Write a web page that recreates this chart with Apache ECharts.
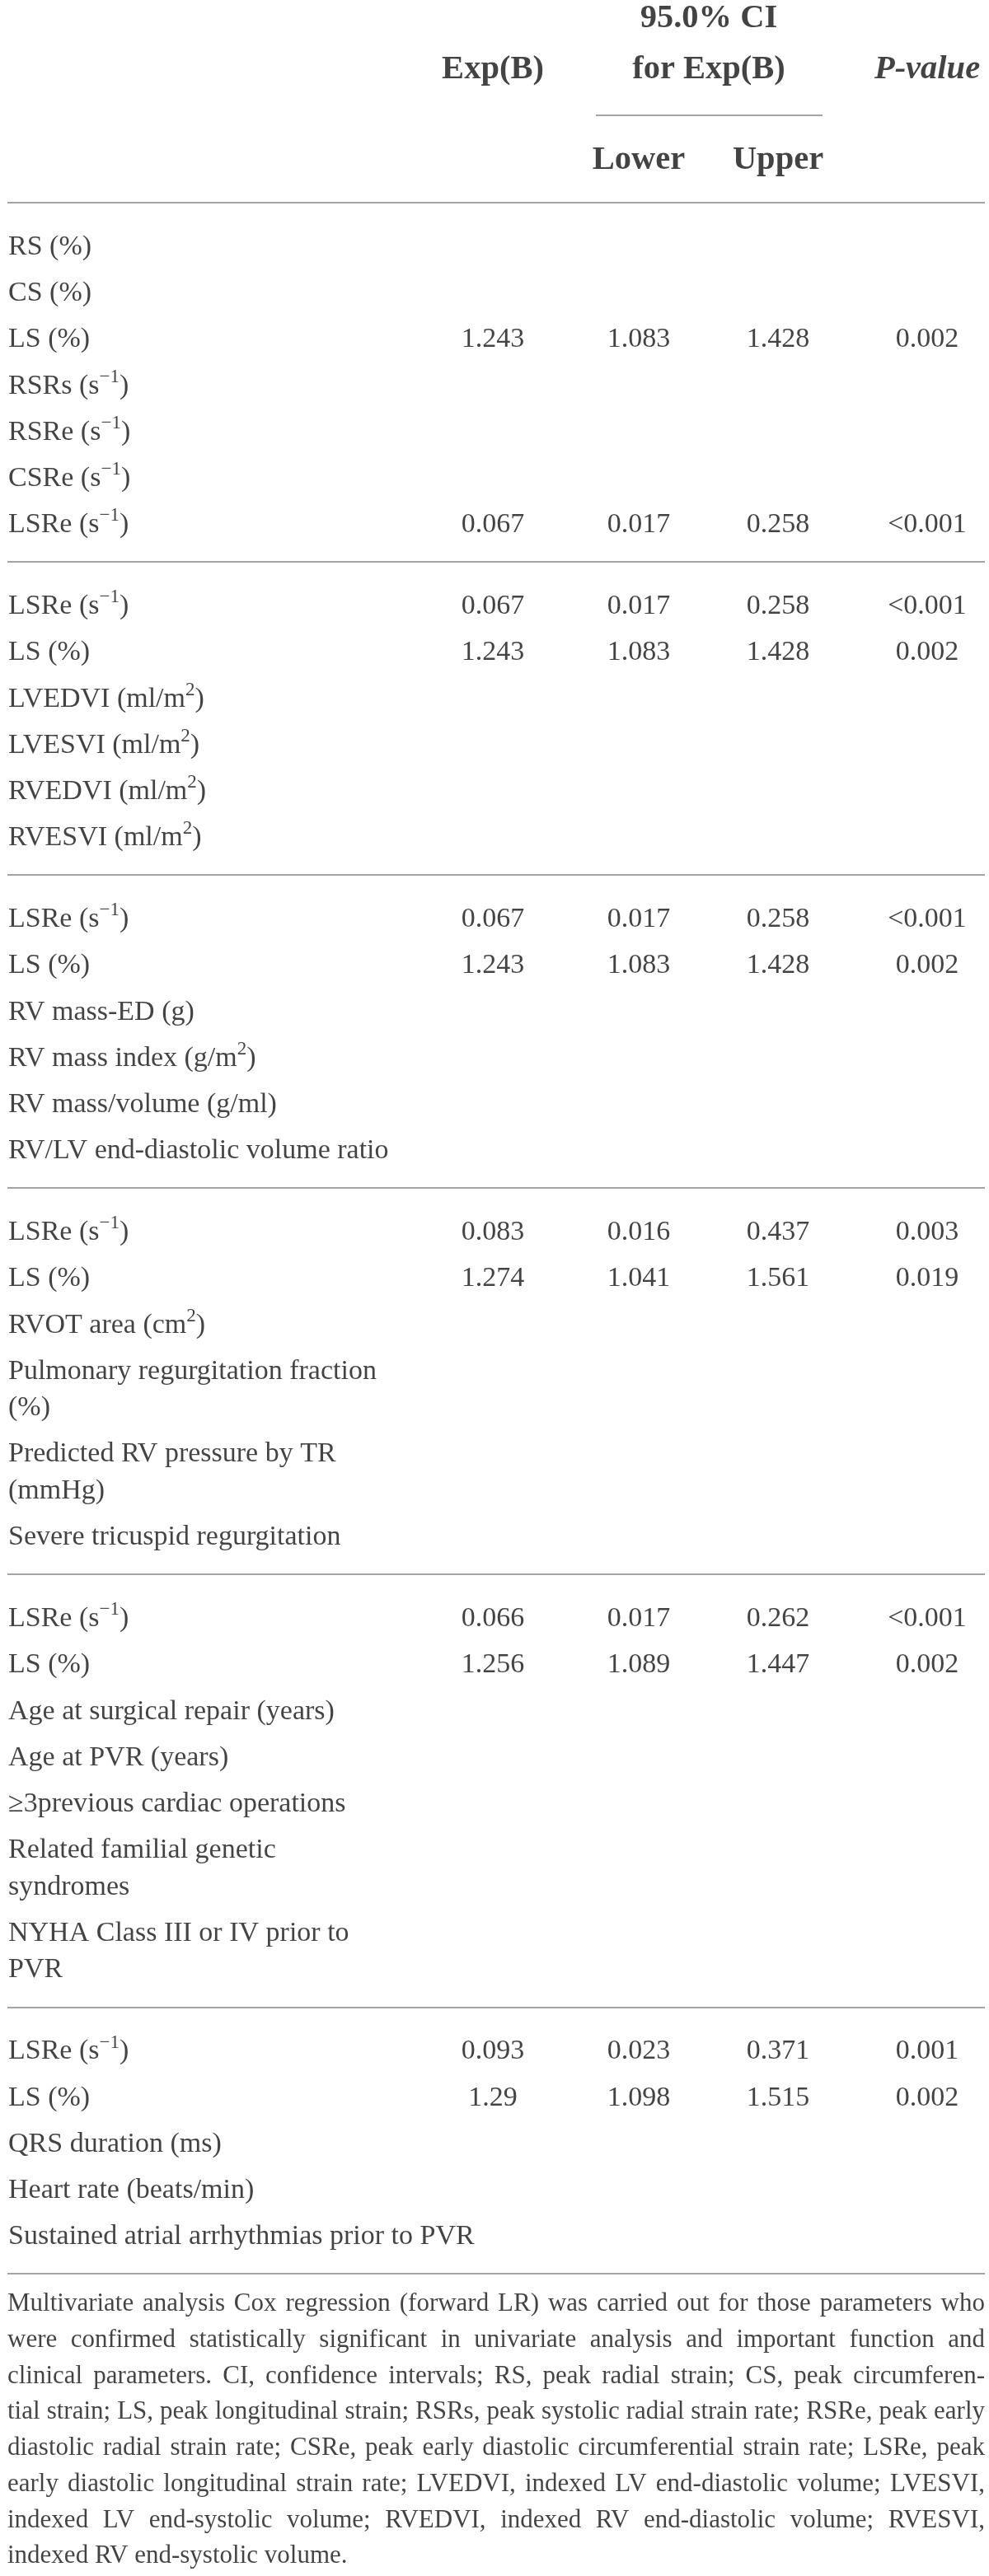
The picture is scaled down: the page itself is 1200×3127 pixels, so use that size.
<!DOCTYPE html>
<html>
<head>
<meta charset="utf-8">
<script src="https://cdn.jsdelivr.net/npm/echarts@6/dist/echarts.min.js"></script>
<style>html,body{margin:0;padding:0;background:#fff}#c{width:1200px;height:3127px}</style>
</head>
<body>
<div id="c"></div>
<script>
// ---------------- DATA ----------------
const ciTitle = '95.0% CI';
const colHeaders = ['Exp(B)', 'for Exp(B)', 'P-value'];
const subHeaders = ['Lower', 'Upper'];

const groupSizes = [7, 6, 6, 6, 7, 5];
const rowLabels = [
  'RS (%)', 'CS (%)', 'LS (%)', 'RSRs (s{sup|\u22121})', 'RSRe (s{sup|\u22121})', 'CSRe (s{sup|\u22121})', 'LSRe (s{sup|\u22121})',
  'LSRe (s{sup|\u22121})', 'LS (%)', 'LVEDVI (ml/m{sup|2})', 'LVESVI (ml/m{sup|2})', 'RVEDVI (ml/m{sup|2})', 'RVESVI (ml/m{sup|2})',
  'LSRe (s{sup|\u22121})', 'LS (%)', 'RV mass-ED (g)', 'RV mass index (g/m{sup|2})', 'RV mass/volume (g/ml)', 'RV/LV end-diastolic volume ratio',
  'LSRe (s{sup|\u22121})', 'LS (%)', 'RVOT area (cm{sup|2})', 'Pulmonary regurgitation fraction\n(%)', 'Predicted RV pressure by TR\n(mmHg)', 'Severe tricuspid regurgitation',
  'LSRe (s{sup|\u22121})', 'LS (%)', 'Age at surgical repair (years)', 'Age at PVR (years)', '\u22653previous cardiac operations', 'Related familial genetic\nsyndromes', 'NYHA Class III or IV prior to\nPVR',
  'LSRe (s{sup|\u22121})', 'LS (%)', 'QRS duration (ms)', 'Heart rate (beats/min)', 'Sustained atrial arrhythmias prior to PVR'
];
const expB = [
  null, null, 1.243, null, null, null, 0.067,
  0.067, 1.243, null, null, null, null,
  0.067, 1.243, null, null, null, null,
  0.083, 1.274, null, null, null, null,
  0.066, 1.256, null, null, null, null, null,
  0.093, 1.29, null, null, null
];
const ciLower = [
  null, null, 1.083, null, null, null, 0.017,
  0.017, 1.083, null, null, null, null,
  0.017, 1.083, null, null, null, null,
  0.016, 1.041, null, null, null, null,
  0.017, 1.089, null, null, null, null, null,
  0.023, 1.098, null, null, null
];
const ciUpper = [
  null, null, 1.428, null, null, null, 0.258,
  0.258, 1.428, null, null, null, null,
  0.258, 1.428, null, null, null, null,
  0.437, 1.561, null, null, null, null,
  0.262, 1.447, null, null, null, null, null,
  0.371, 1.515, null, null, null
];
const pValues = [
  null, null, '0.002', null, null, null, '<0.001',
  '<0.001', '0.002', null, null, null, null,
  '<0.001', '0.002', null, null, null, null,
  '0.003', '0.019', null, null, null, null,
  '<0.001', '0.002', null, null, null, null, null,
  '0.001', '0.002', null, null, null
];
const noteLines = [
  'Multivariate analysis Cox regression (forward LR) was carried out for those parameters who',
  'were confirmed statistically significant in univariate analysis and important function and',
  'clinical parameters. CI, confidence intervals; RS, peak radial strain; CS, peak circumferen-',
  'tial strain; LS, peak longitudinal strain; RSRs, peak systolic radial strain rate; RSRe, peak early',
  'diastolic radial strain rate; CSRe, peak early diastolic circumferential strain rate; LSRe, peak',
  'early diastolic longitudinal strain rate; LVEDVI, indexed LV end-diastolic volume; LVESVI,',
  'indexed LV end-systolic volume; RVEDVI, indexed RV end-diastolic volume; RVESVI,',
  'indexed RV end-systolic volume.'
];

// ---------------- LAYOUT ----------------
const W = 1200, H = 3127;
const FONT = '"Liberation Serif", "Times New Roman", serif';
const TXT = '#141414';
const RULE = '#a3a3a3';
const BODY_FS = 34, HEAD_FS = 40.5, NOTE_FS = 31;
const X = { left: 9, right: 1195, label: 10, exp: 598, lower: 775, upper: 944, p: 1125, ci: 860, ciL: 723, ciR: 998 };
const Y = { ci: 23, head: 85, ciRule: 140, sub: 195, rule0: 246, firstGap: 54, pitch: 56.2, wrap: 44.5, lastGap: 45, noteGap: 37, notePitch: 43.7 };

// compute row centres and rule positions
const rowY = [];
const rules = [Y.rule0];
let y = Y.rule0, idx = 0;
groupSizes.forEach(n => {
  y += Y.firstGap;
  for (let i = 0; i < n; i++) {
    const nl = rowLabels[idx].split('\n').length;
    rowY.push(y + (nl - 1) * Y.wrap / 2);
    y += (nl - 1) * Y.wrap;
    if (i < n - 1) y += Y.pitch;
    idx++;
  }
  y += Y.lastGap;
  rules.push(y);
});
const lastRule = rules[rules.length - 1];

// footnote words, justified
const ctx = document.createElement('canvas').getContext('2d');
ctx.font = NOTE_FS + 'px "Liberation Serif"';
const avail = X.right - X.left;
let maxNat = 0;
noteLines.forEach(l => { maxNat = Math.max(maxNat, ctx.measureText(l).width); });
const noteFs = maxNat > avail ? NOTE_FS * avail / maxNat * 0.995 : NOTE_FS;
ctx.font = noteFs + 'px "Liberation Serif"';
const noteWords = [];
noteLines.forEach((line, li) => {
  const words = line.split(' ');
  const widths = words.map(w => ctx.measureText(w).width);
  const total = widths.reduce((a, b) => a + b, 0);
  const justify = li < noteLines.length - 1 && words.length > 1;
  const gap = justify ? (avail - total) / (words.length - 1) : ctx.measureText(' ').width;
  let x = X.left;
  const yy = lastRule + Y.noteGap + li * Y.notePitch;
  words.forEach((w, wi) => {
    noteWords.push({ value: [x, yy], text: w });
    x += widths[wi] + gap;
  });
});

// ---------------- SERIES ----------------
const supRich = { sup: { fontSize: 23, fontFamily: FONT, color: TXT, verticalAlign: 'top', lineHeight: 22 } };

function textSeries(name, data, opt) {
  return {
    type: 'scatter', name, symbolSize: 0, silent: true, animation: false,
    data: data,
    label: Object.assign({
      show: true, position: 'inside', align: 'center', verticalAlign: 'middle',
      color: TXT, fontFamily: FONT, fontSize: BODY_FS, lineHeight: Y.wrap,
      formatter: p => p.data.text
    }, opt || {})
  };
}

const labelData = rowLabels.map((t, i) => ({ value: [X.label, rowY[i]], text: t }));
function colData(arr, x) {
  const out = [];
  arr.forEach((v, i) => { if (v !== null) out.push({ value: [x, rowY[i]], text: String(v) }); });
  return out;
}

const headerData = [
  { value: [X.ci, Y.ci], text: ciTitle },
  { value: [X.exp, Y.head], text: colHeaders[0] },
  { value: [X.ci, Y.head], text: colHeaders[1] },
  { value: [X.lower, Y.sub], text: subHeaders[0] },
  { value: [X.upper, Y.sub], text: subHeaders[1] }
];

const ruleData = rules.map(r => ({ coords: [[X.left, r], [X.right, r]] }));
ruleData.push({ coords: [[X.ciL, Y.ciRule], [X.ciR, Y.ciRule]] });

const option = {
  backgroundColor: '#ffffff',
  animation: false,
  grid: { left: 0, right: 0, top: 0, bottom: 0 },
  xAxis: { type: 'value', min: 0, max: W, show: false },
  yAxis: { type: 'value', min: 0, max: H, inverse: true, show: false },
  series: [
    {
      type: 'lines', coordinateSystem: 'cartesian2d', silent: true, animation: false,
      data: ruleData,
      lineStyle: { color: RULE, width: 2, opacity: 1 },
      symbol: 'none'
    },
    textSeries('header', headerData, { fontSize: HEAD_FS, fontWeight: 'bold' }),
    textSeries('pheader', [{ value: [X.p, Y.head], text: colHeaders[2] }], { fontSize: HEAD_FS, fontWeight: 'bold', fontStyle: 'italic' }),
    textSeries('labels', labelData, { align: 'left', rich: supRich }),
    textSeries('expB', colData(expB, X.exp)),
    textSeries('lower', colData(ciLower, X.lower)),
    textSeries('upper', colData(ciUpper, X.upper)),
    textSeries('p', colData(pValues, X.p)),
    textSeries('note', noteWords, { align: 'left', fontSize: noteFs, lineHeight: noteFs * 1.2 })
  ]
};

const chart = echarts.init(document.getElementById('c'), null, { renderer: 'canvas' });
chart.setOption(option);
</script>
</body>
</html>
